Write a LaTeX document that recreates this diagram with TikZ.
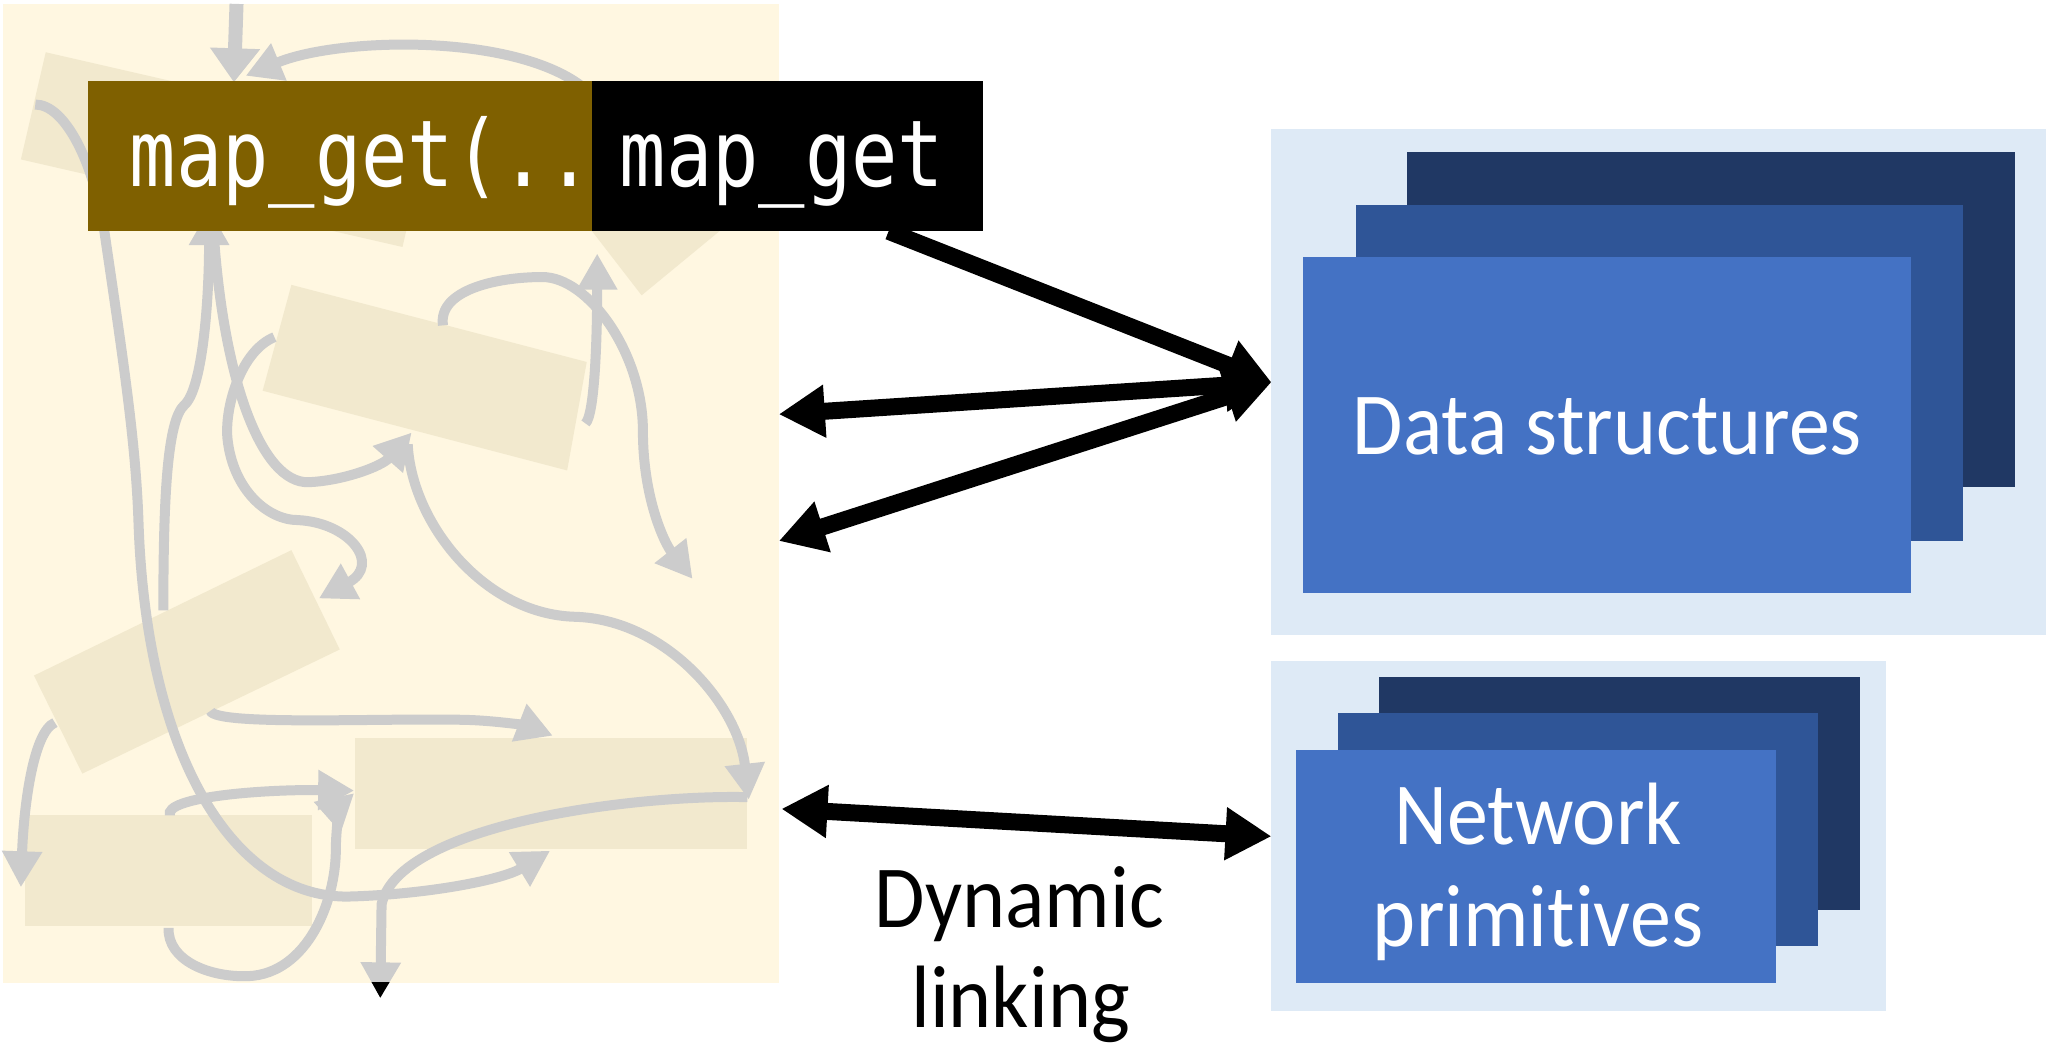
\documentclass[tikz,border=0pt]{standalone}
\usepackage{fontspec}
\usepackage{graphicx}
\setmainfont{Carlito}[Ligatures={NoCommon,NoRequired,NoContextual}]
\newfontfamily\codefont{DejaVu Sans Mono}
\usetikzlibrary{arrows.meta,fit}
\definecolor{cream}{HTML}{FFF7E1}
\definecolor{beige}{HTML}{F2E9CE}
\definecolor{ghost}{HTML}{CCCCCC}
\definecolor{gold}{HTML}{7F6000}
\definecolor{paleblue}{HTML}{DEEAF6}
\definecolor{navy}{HTML}{203864}
\definecolor{midblue}{HTML}{2F5597}
\definecolor{frontblue}{HTML}{4472C4}
\begin{document}
\begin{tikzpicture}[x=0.6534pt,y=-0.6534pt,
  box/.style={inner sep=0pt, outer sep=0pt, draw=none},
  ghostline/.style={draw=ghost, line width=5pt, -{Triangle[length=18pt,width=19pt]}},
  bigarrow/.style={draw=black, line width=8.5pt},
  bighead/.tip={Triangle[length=23pt,width=25pt]},
  label/.style={font=\fontsize{41}{49}\selectfont, anchor=base, inner sep=0pt},
  codetext/.style={text=white, anchor=base west, inner sep=0pt,
    font=\codefont\fontsize{38.5}{40}\selectfont}]
\useasboundingbox (0,0) rectangle (1568,800);

% ---------- legacy code panel ----------
\node[box, fill=cream, fit={(2,3)(596,752)}] (legacy) {};
\fill[beige] (35,40) -- (327,107) -- (308,189) -- (16,122) -- cycle;
\fill[beige] (440,160) -- (491,226) -- (565,165) -- cycle;
\fill[beige] (223,218) -- (449,277) -- (434,360) -- (201,299) -- cycle;
\fill[beige] (223,421) -- (260,497) -- (63,592) -- (26,517) -- cycle;
\fill[beige] (272,565) rectangle (572,650);
\fill[beige] (19,624) rectangle (239,709);

% grey call graph
\draw[ghostline, line width=7pt, -{Triangle[length=17pt,width=24pt]}] (181,3) -- (179,63);
\draw[ghostline] (450,70) .. controls (400,25) and (260,28) .. (188,58);
\draw[ghostline] (27,80) .. controls (50,80) and (72,125) .. (80,178)
  .. controls (95,280) and (104,340) .. (106,400)
  .. controls (112,580) and (180,690) .. (270,686)
  .. controls (330,684) and (385,673) .. (421,651);
\draw[ghostline] (125,467) .. controls (125,380) and (128,322) .. (141,310)
  .. controls (155,298) and (160,230) .. (160,160);
\draw[ghostline] (163,170) .. controls (170,290) and (200,370) .. (236,369)
  .. controls (262,368) and (292,357) .. (315,331);
\draw[ghostline] (210,258) .. controls (185,268) and (172,310) .. (174,335)
  .. controls (178,375) and (205,398) .. (228,398)
  .. controls (268,400) and (292,432) .. (244,458);
\draw[ghostline] (339,249) .. controls (335,222) and (380,212) .. (415,212)
  .. controls (450,212) and (492,270) .. (492,330)
  .. controls (492,380) and (508,415) .. (530,443);
\draw[ghostline] (448,324) .. controls (455,318) and (457,260) .. (457,194);
\draw[ghostline] (312,340) .. controls (315,400) and (370,470) .. (440,472)
  .. controls (510,474) and (565,540) .. (573,612);
\draw[ghostline] (572,610) .. controls (480,608) and (305,632) .. (292,692) -- (291,764);
\begin{scope}
  \clip (0,752) rectangle (1568,800);
  \draw[ghostline, draw=black] (572,610) .. controls (480,608) and (305,632) .. (292,692) -- (291,764);
\end{scope}
\draw[ghostline] (130,624) .. controls (125,610) and (200,604) .. (271,605);
\draw[ghostline] (161,544) .. controls (165,556) and (300,549) .. (360,551)
  .. controls (385,552) and (405,556) .. (423,563);
\draw[ghostline] (42,553) .. controls (25,560) and (18,620) .. (16,679);
\draw[ghostline] (129,710) .. controls (128,735) and (160,748) .. (190,747)
  .. controls (235,745) and (257,690) .. (257,650)
  .. controls (257,630) and (262,615) .. (271,607);

% code box
\node[box, fill=gold, fit={(67,62)(453,177)}] (goldbox) {};
\node[box, fill=black, fit={(453,62)(752,177)}] (blackbox) {};
\node[codetext] (call) at (99,143) {\scalebox{1}[1.2]{map\_get(..}};
\node[codetext] (callee) at (474,143) {\scalebox{1}[1.2]{map\_get}};

% ---------- data structures ----------
\node[box, fill=paleblue, fit={(973,99)(1566,486)}] (dspanel) {};
\node[box, fill=navy, fit={(1077,116)(1542,373)}] (ds3) {};
\node[box, fill=midblue, fit={(1038,157)(1502,414)}] (ds2) {};
\node[box, fill=frontblue, fit={(997,197)(1462,454)}] (ds1) {};
\node[label, text=white] (dslabel) at (1230,348) {\scalebox{1}[1.08]{Data structures}};

% ---------- network primitives ----------
\node[box, fill=paleblue, fit={(973,506)(1443,774)}] (netpanel) {};
\node[box, fill=navy, fit={(1055,518)(1423,696)}] (net3) {};
\node[box, fill=midblue, fit={(1024,546)(1391,724)}] (net2) {};
\node[box, fill=frontblue, fit={(992,574)(1359,752)}] (net1) {};
\node[label, text=white] (netlabelA) at (1177,646) {\scalebox{1}[1.08]{Network}};
\node[label, text=white] (netlabelB) at (1177,724) {\scalebox{1}[1.08]{primitives}};

% ---------- dynamic linking label ----------
\node[label] (dynA) at (780,710) {\scalebox{1}[1.08]{Dynamic}};
\node[label] (dynB) at (781,786) {\scalebox{1}[1.08]{linking}};

% ---------- connectors ----------
\coordinate (codeout) at (680,177);
\coordinate (leftA) at (596,317);
\coordinate (leftB) at (596,414);
\coordinate (leftC) at (598,619);
\draw[bigarrow, -bighead] (codeout) -- (dspanel.west);
\draw[bigarrow, bighead-bighead] (leftA) -- (dspanel.west);
\draw[bigarrow, bighead-bighead] (leftB) -- (dspanel.west);
\draw[bigarrow, bighead-bighead] (leftC) -- (netpanel.west);
\end{tikzpicture}
\end{document}
